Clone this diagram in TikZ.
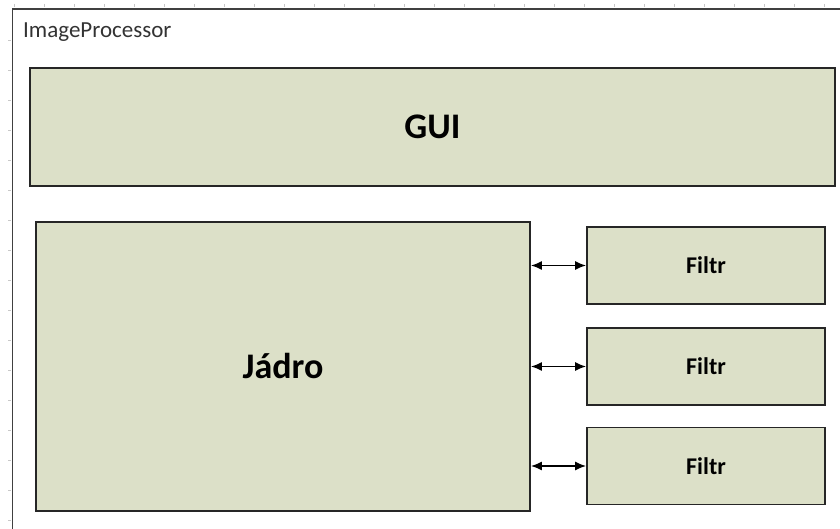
\documentclass[tikz,border=0pt]{standalone}
\usepackage{fontspec}
\setmainfont{Carlito}
\usetikzlibrary{arrows.meta}
\definecolor{boxfill}{RGB}{220,224,200}
\definecolor{framegray}{RGB}{64,64,64}
\definecolor{tickgray}{RGB}{200,200,200}
\tikzset{
  block/.style={draw=black!85, line width=1.8pt, fill=boxfill, inner sep=0pt},
  link/.style={line width=1.5pt, {Latex[length=11pt,width=9pt]}-{Latex[length=11pt,width=9pt]}}
}
\begin{document}
\begin{tikzpicture}[x=1pt,y=-1pt]
\useasboundingbox (0,0) rectangle (840,529);
% ruler ticks along the top and left margins
\foreach \x in {14,44,...,840} \draw[tickgray, line width=0.7pt] (\x,4) -- (\x,7.5);
\foreach \y in {40,70,...,529} \draw[tickgray, line width=0.7pt] (8,\y) -- (11,\y);
% package frame, running off the page
\coordinate (fTR) at (842,9);
\coordinate (fTL) at (12.5,9);
\coordinate (fBL) at (12.5,531);
\draw[framegray, line width=1.8pt] (fTR) -- (fTL) -- (fBL);
\node[anchor=north west, inner sep=0pt, font=\fontsize{23}{27}\selectfont, text=black!80] (title) at (23,23) {ImageProcessor};
% blocks
\node[block, minimum width=805pt, minimum height=118pt] (gui) at (432.5,127) {\fontsize{36}{40}\selectfont\bfseries GUI};
\node[block, minimum width=494pt, minimum height=289pt] (core) at (283,366.5) {\fontsize{36}{40}\selectfont\bfseries Jádro};
\node[block, minimum width=238pt, minimum height=77pt] (f1) at (706,265.5) {\fontsize{24}{28}\selectfont\bfseries Filtr};
\node[block, minimum width=238pt, minimum height=77pt] (f2) at (706,366.5) {\fontsize{24}{28}\selectfont\bfseries Filtr};
\node[block, minimum width=238pt, minimum height=77pt] (f3) at (706,466) {\fontsize{24}{28}\selectfont\bfseries Filtr};
% connectors between core and filters
\draw[link] (core.east |- f1.west) -- (f1.west);
\draw[link] (core.east |- f2.west) -- (f2.west);
\draw[link] (core.east |- f3.west) -- (f3.west);
\end{tikzpicture}
\end{document}
